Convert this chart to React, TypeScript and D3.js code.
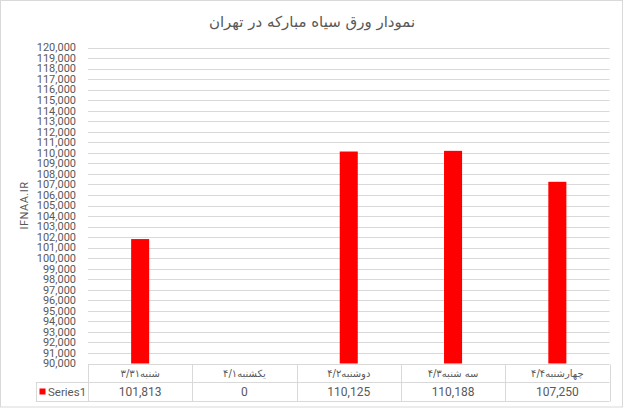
import React, { useRef, useEffect } from 'react';
import * as d3 from 'd3';

const title = 'نمودار ورق سیاه مبارکه در تهران';
const axisTitle = 'IFNAA.IR';
const seriesName = 'Series1';
const categories = ['شنبه۳/۳۱', 'یکشنبه۴/۱', 'دوشنبه۴/۲', 'سه شنبه۴/۳', 'چهارشنبه۴/۴'];
const values = [101813, 0, 110125, 110188, 107250];
const yMin = 90000;
const yMax = 120000;
const yStep = 1000;

const App: React.FC = () => {
  const svgRef = useRef<SVGSVGElement | null>(null);

  useEffect(() => {
    if (!svgRef.current) return;
    document.body.style.margin = '0';

    d3.select(svgRef.current).selectAll('*').remove();

    const width = 624;
    const height = 408;
    const left = 88;
    const right = 609.5;
    const top = 47.5;
    const bottom = 363.5;
    const rowH = 18.8;
    const labelLeft = 35.7;
    const grid = '#d9d9d9';
    const text = '#595959';
    const numFont = 'Roboto, "Liberation Sans", sans-serif';
    const faFont = '"DejaVu Sans", sans-serif';

    const svg = d3
      .select(svgRef.current)
      .attr('width', width)
      .attr('height', height);

    // chart frame
    svg
      .append('rect')
      .attr('x', 0.5)
      .attr('y', 0.5)
      .attr('width', width - 2)
      .attr('height', height - 1.5)
      .attr('fill', '#fff')
      .attr('stroke', grid);

    const x = d3
      .scaleBand<string>()
      .domain(categories)
      .range([left, right])
      .paddingInner(0.827)
      .paddingOuter(0.4135);

    const y = d3.scaleLinear().domain([yMin, yMax]).range([bottom, top]);
    const ticks = d3.range(yMin, yMax + 1, yStep);

    // gridlines
    svg
      .append('g')
      .selectAll('line')
      .data(ticks)
      .join('line')
      .attr('x1', left)
      .attr('x2', right)
      .attr('y1', (d) => Math.round(y(d)) + 0.5)
      .attr('y2', (d) => Math.round(y(d)) + 0.5)
      .attr('stroke', grid);

    // tick labels
    svg
      .append('g')
      .selectAll('text')
      .data(ticks)
      .join('text')
      .attr('x', 76)
      .attr('y', (d) => y(d))
      .attr('dy', '0.35em')
      .attr('text-anchor', 'end')
      .attr('font-family', numFont)
      .attr('font-size', 11)
      .attr('fill', text)
      .text((d) => d3.format(',')(d));

    // bars (values under the axis minimum are not drawn)
    svg
      .append('g')
      .selectAll('rect')
      .data(values.map((v, i) => ({ v, c: categories[i] })))
      .join('rect')
      .attr('x', (d) => x(d.c) as number)
      .attr('width', x.bandwidth())
      .attr('y', (d) => y(Math.max(d.v, yMin)))
      .attr('height', (d) => bottom - y(Math.max(d.v, yMin)))
      .attr('fill', '#ff0000');

    // data table
    const table = svg.append('g').attr('stroke', grid).attr('fill', 'none');
    const r1 = Math.round(bottom + rowH) + 0.5;
    const r2 = Math.round(bottom + 2 * rowH) + 0.5;
    table.append('line').attr('x1', labelLeft).attr('x2', right).attr('y1', r1).attr('y2', r1);
    table.append('line').attr('x1', labelLeft).attr('x2', right).attr('y1', r2).attr('y2', r2);
    table
      .append('line')
      .attr('x1', Math.round(labelLeft) + 0.5)
      .attr('x2', Math.round(labelLeft) + 0.5)
      .attr('y1', r1)
      .attr('y2', r2);
    const step = x.step();
    table
      .selectAll('line.col')
      .data(d3.range(categories.length + 1))
      .join('line')
      .attr('class', 'col')
      .attr('x1', (i) => Math.round(left + i * step) + 0.5)
      .attr('x2', (i) => Math.round(left + i * step) + 0.5)
      .attr('y1', Math.round(bottom) + 0.5)
      .attr('y2', r2);

    const center = (c: string) => (x(c) as number) + x.bandwidth() / 2;

    svg
      .append('g')
      .selectAll('text')
      .data(categories)
      .join('text')
      .attr('x', (d) => center(d))
      .attr('y', bottom + rowH / 2 + 0.5)
      .attr('dy', '0.35em')
      .attr('text-anchor', 'middle')
      .attr('font-family', faFont)
      .attr('font-size', 10)
      .attr('fill', text)
      .text((d) => d);

    svg
      .append('g')
      .selectAll('text')
      .data(values.map((v, i) => ({ v, c: categories[i] })))
      .join('text')
      .attr('x', (d) => center(d.c))
      .attr('y', bottom + rowH * 1.5 + 0.5)
      .attr('dy', '0.35em')
      .attr('text-anchor', 'middle')
      .attr('font-family', numFont)
      .attr('font-size', 12)
      .attr('fill', text)
      .text((d) => d3.format(',')(d.v));

    // legend key in table
    svg
      .append('rect')
      .attr('x', 39.5)
      .attr('y', 388.5)
      .attr('width', 6)
      .attr('height', 6)
      .attr('fill', '#ff0000');
    svg
      .append('text')
      .attr('x', 48)
      .attr('y', bottom + rowH * 1.5 + 0.5)
      .attr('dy', '0.35em')
      .attr('font-family', numFont)
      .attr('font-size', 11.5)
      .attr('fill', text)
      .text(seriesName);

    // axis title
    svg
      .append('text')
      .attr('transform', `translate(28,${(top + bottom) / 2}) rotate(-90)`)
      .attr('text-anchor', 'middle')
      .attr('font-family', numFont)
      .attr('font-size', 11)
      .attr('letter-spacing', 0.5)
      .attr('fill', text)
      .text(axisTitle);

    // chart title
    svg
      .append('text')
      .attr('x', 312)
      .attr('y', 22)
      .attr('dy', '0.35em')
      .attr('text-anchor', 'middle')
      .attr('font-family', faFont)
      .attr('font-size', 15)
      .attr('fill', text)
      .text(title);
  }, []);

  return <svg ref={svgRef} style={{ display: 'block' }}></svg>;
};

export default App;
